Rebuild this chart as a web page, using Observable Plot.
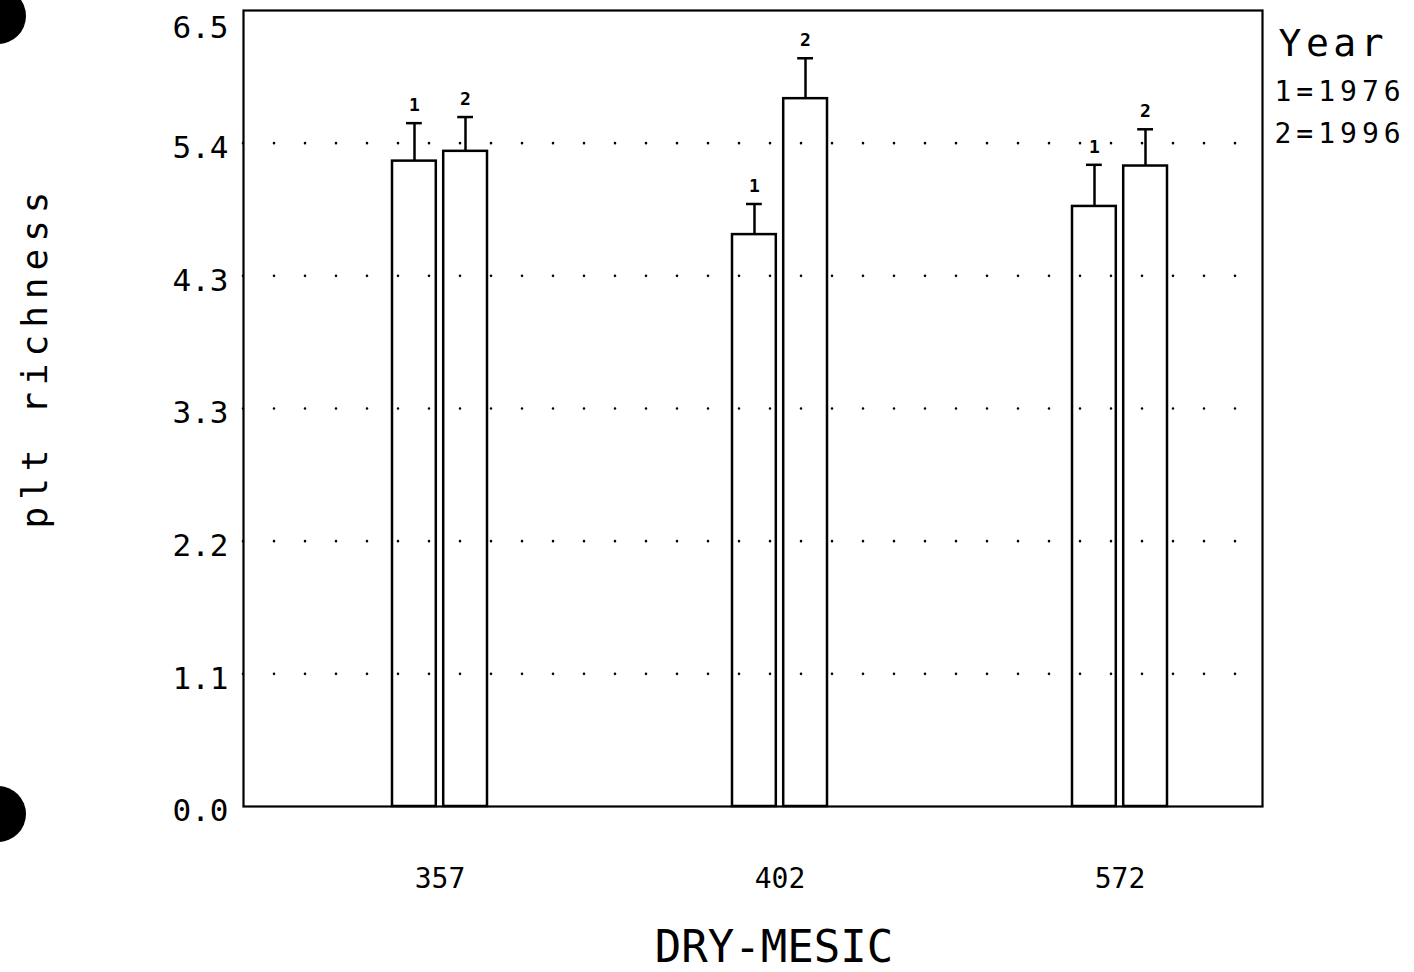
<!DOCTYPE html>
<html>
<head>
<meta charset="utf-8">
<script src="https://cdn.jsdelivr.net/npm/d3@7"></script>
<script src="https://cdn.jsdelivr.net/npm/@observablehq/plot@0.6"></script>
<style>
  html, body { margin: 0; padding: 0; background: #fff; }
  #chart { position: relative; width: 1414px; height: 972px; overflow: hidden; }
  .hole { position: absolute; width: 56px; height: 56px; border-radius: 50%; background: #000; left: -30px; }
</style>
</head>
<body>
<div id="chart">
  <div class="hole" style="top:-12px"></div>
  <div class="hole" style="top:786px"></div>
</div>
<script>
// ---- data ----
const groups = ["357", "402", "572"];
const yearCodes = ["1", "2"];
const mean1976 = [5.27, 4.67, 4.90];
const mean1996 = [5.35, 5.78, 5.23];
const se1976 = [0.31, 0.25, 0.34];
const se1996 = [0.28, 0.33, 0.30];
const yTicks = [0, 1.0833, 2.1667, 3.25, 4.3333, 5.4167, 6.5];
const yTickLabels = ["0.0", "1.1", "2.2", "3.3", "4.3", "5.4", "6.5"];
const legendLines = ["Year", "1=1976", "2=1996"];
const xTitle = "DRY-MESIC";
const yTitle = "plt richness";

// ---- table built from the arrays ----
const rows = [];
groups.forEach((g, i) => {
  rows.push({group: g, year: yearCodes[0], mean: mean1976[i], se: se1976[i]});
  rows.push({group: g, year: yearCodes[1], mean: mean1996[i], se: se1996[i]});
});
const r1 = rows.filter(d => d.year === yearCodes[0]);
const r2 = rows.filter(d => d.year === yearCodes[1]);

const lw = 2.5;
const barInset = 51.2;   // px: splits each group band into two bars
const capIn = 14, capOut = 65.2;
const off = 25.5;
const fmt = d => yTickLabels[yTicks.indexOf(d)];

const chart = Plot.plot({
  width: 1414,
  height: 972,
  marginTop: 10,
  marginBottom: 166,
  marginLeft: 243,
  marginRight: 152,
  style: {fontFamily: "'DejaVu Sans Mono', monospace", color: "#000", background: "transparent"},
  x: {type: "band", domain: groups, paddingInner: 0.72, paddingOuter: 0.358, align: 0.61},
  y: {domain: [0, 6.5]},
  marks: [
    Plot.ruleY(yTicks.slice(1, -1), {stroke: "#000", strokeWidth: 2.6, strokeDasharray: "0 31", strokeLinecap: "round", insetRight: 22}),
    Plot.barY(r1, {x: "group", y: "mean", fill: "none", stroke: "#000", strokeWidth: lw, insetRight: barInset}),
    Plot.barY(r2, {x: "group", y: "mean", fill: "none", stroke: "#000", strokeWidth: lw, insetLeft: barInset}),
    Plot.ruleX(r1, {x: "group", y1: "mean", y2: d => d.mean + d.se, dx: -off, stroke: "#000", strokeWidth: lw}),
    Plot.ruleX(r2, {x: "group", y1: "mean", y2: d => d.mean + d.se, dx: off, stroke: "#000", strokeWidth: lw}),
    Plot.tickY(r1, {x: "group", y: d => d.mean + d.se, insetLeft: capIn, insetRight: capOut, stroke: "#000", strokeWidth: lw}),
    Plot.tickY(r2, {x: "group", y: d => d.mean + d.se, insetLeft: capOut, insetRight: capIn, stroke: "#000", strokeWidth: lw}),
    Plot.text(r1, {x: "group", y: d => d.mean + d.se, text: "year", dx: -off, dy: -18, fontSize: 18, fontWeight: "bold"}),
    Plot.text(r2, {x: "group", y: d => d.mean + d.se, text: "year", dx: off, dy: -18, fontSize: 18, fontWeight: "bold"}),
    Plot.frame({stroke: "#000", strokeWidth: 2.2}),
    Plot.axisY({ticks: yTicks.slice(0, -1), tickFormat: fmt, tickSize: 0, tickPadding: 15, fontSize: 31, dy: 5, label: null}),
    Plot.axisY({ticks: yTicks.slice(-1), tickFormat: fmt, tickSize: 0, tickPadding: 15, fontSize: 31, dy: 18, label: null}),
    Plot.axisX({tickSize: 0, tickPadding: 62, fontSize: 28, label: null}),
    Plot.text([xTitle], {frameAnchor: "bottom", text: d => d, dx: 21, dy: 141, fontSize: 44, lineAnchor: "middle"}),
    Plot.text([yTitle], {frameAnchor: "left", text: d => d, textAnchor: "middle", dx: -208, dy: -52, rotate: -90, fontSize: 36}),
    Plot.text([legendLines[0]], {frameAnchor: "top-right", text: d => d, textAnchor: "start", dx: 16, dy: 19, fontSize: 38}),
    Plot.text([legendLines[1]], {frameAnchor: "top-right", text: d => d, textAnchor: "start", dx: 12, dy: 71, fontSize: 28}),
    Plot.text([legendLines[2]], {frameAnchor: "top-right", text: d => d, textAnchor: "start", dx: 12, dy: 113, fontSize: 28})
  ]
});
// letter spacing of the plotter-style titles
const spacing = new Map([[yTitle, 7], [legendLines[0], 4.5], [legendLines[1], 5], [legendLines[2], 5]]);
d3.select(chart).selectAll("text").each(function() {
  const t = this.textContent;
  if (spacing.has(t)) this.setAttribute("letter-spacing", spacing.get(t));
});
chart.style.position = "absolute";
chart.style.left = "0";
chart.style.top = "0";
document.getElementById("chart").appendChild(chart);
</script>
</body>
</html>
